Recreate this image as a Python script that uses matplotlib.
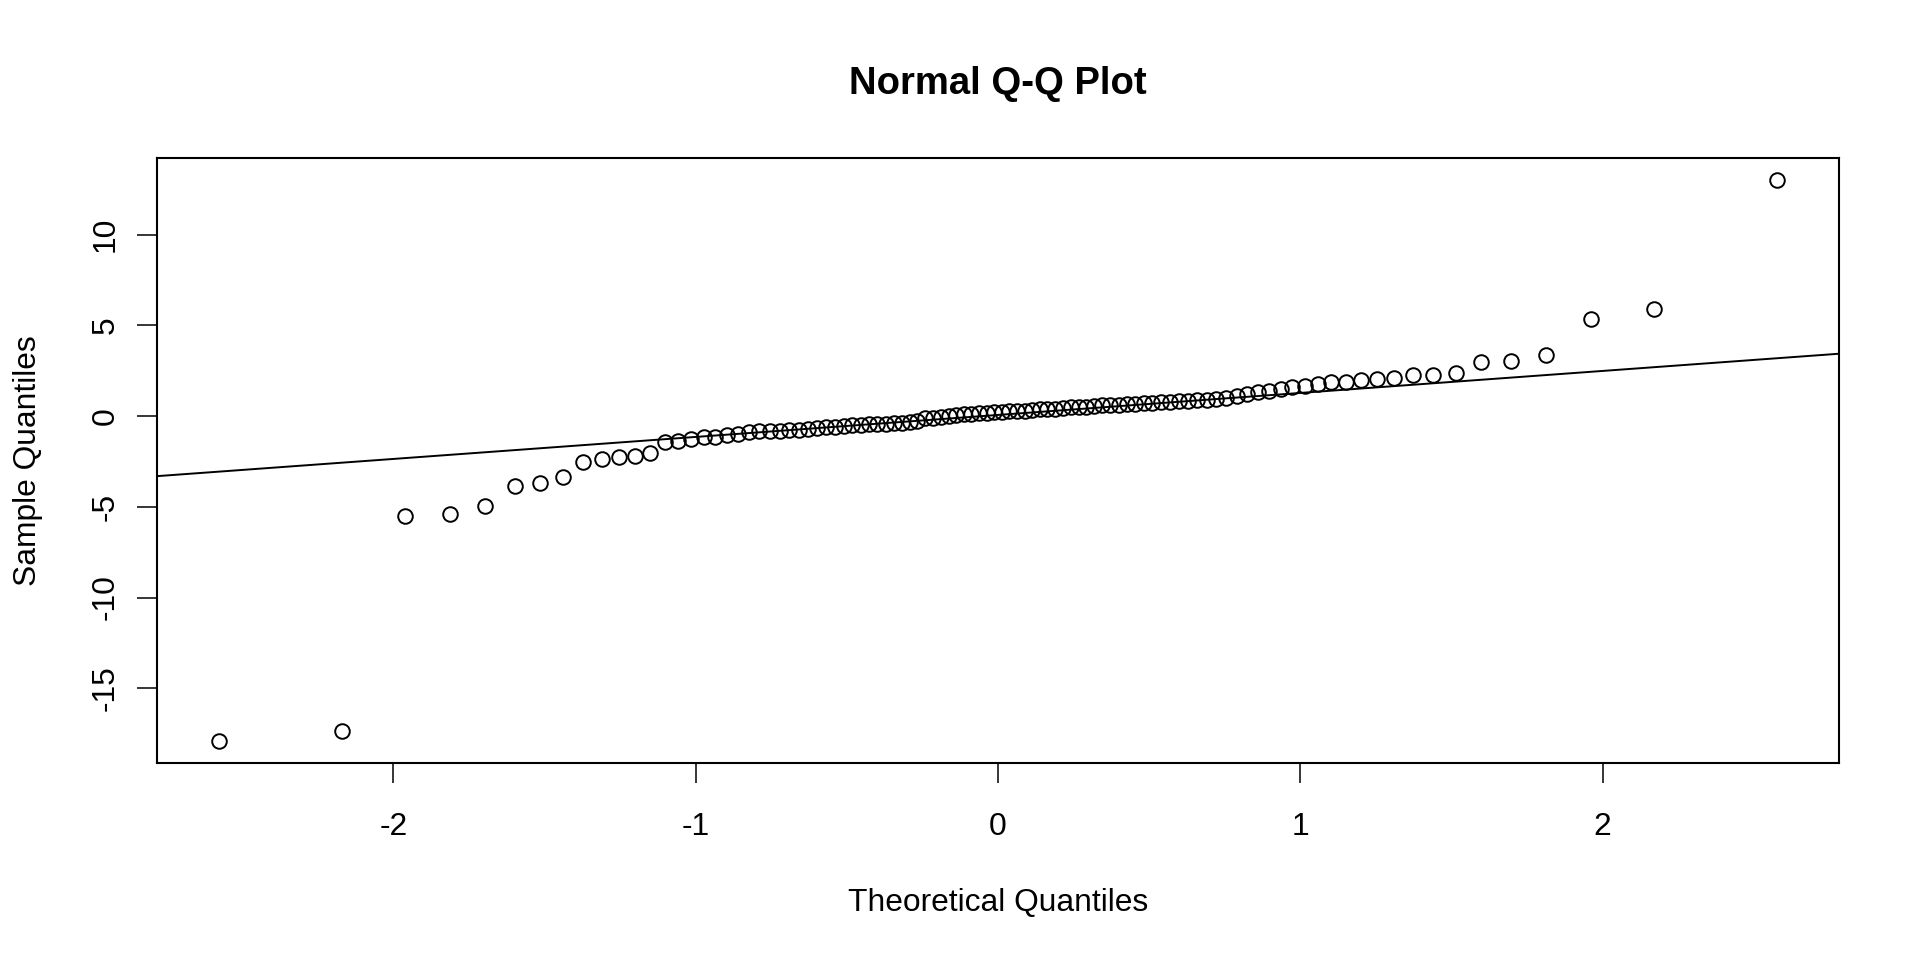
import numpy as np
import matplotlib
matplotlib.use("Agg")
import matplotlib.pyplot as plt
from statistics import NormalDist

# Sorted sample values (n = 100)
sample = [
    -17.88, -17.33, -5.48, -5.38, -4.95, -3.88, -3.68, -3.35, -2.51, -2.38,
    -2.27, -2.18, -2.05, -1.45, -1.37, -1.27, -1.18, -1.13, -1.05, -0.97,
    -0.90, -0.85, -0.82, -0.80, -0.78, -0.75, -0.70, -0.66, -0.63, -0.60,
    -0.56, -0.52, -0.48, -0.46, -0.44, -0.42, -0.39, -0.37, -0.33, -0.28,
    -0.13, -0.09, -0.06, -0.02, 0.05, 0.09, 0.13, 0.16, 0.19, 0.21,
    0.23, 0.25, 0.28, 0.30, 0.33, 0.36, 0.39, 0.41, 0.44, 0.47,
    0.50, 0.52, 0.55, 0.58, 0.60, 0.63, 0.66, 0.68, 0.71, 0.74,
    0.77, 0.79, 0.81, 0.84, 0.87, 0.90, 0.94, 0.99, 1.08, 1.19,
    1.30, 1.39, 1.48, 1.58, 1.68, 1.78, 1.85, 1.90, 1.96, 2.05,
    2.09, 2.24, 2.27, 2.36, 2.98, 3.04, 3.37, 5.35, 5.88, 12.98,
]
x_ticks = [-2, -1, 0, 1, 2]
y_ticks = [-15, -10, -5, 0, 5, 10]
title = "Normal Q-Q Plot"
x_label = "Theoretical Quantiles"
y_label = "Sample Quantiles"

y = np.sort(np.array(sample))
n = len(y)
nd = NormalDist()
theo = np.array([nd.inv_cdf((i - 0.5) / n) for i in range(1, n + 1)])

# qqline through the first and third quartiles
q1, q3 = np.quantile(y, [0.25, 0.75])
t1, t3 = nd.inv_cdf(0.25), nd.inv_cdf(0.75)
slope = (q3 - q1) / (t3 - t1)
intercept = q1 - slope * t1

plt.rcParams["font.family"] = ["Liberation Sans", "DejaVu Sans"]
plt.rcParams["axes.unicode_minus"] = False

W, H = 1920, 960
fig = plt.figure(figsize=(W / 100, H / 100), dpi=100)
L, R, T, B = 157, 1839, 158, 763
ax = fig.add_axes([L / W, 1 - B / H, (R - L) / W, (B - T) / H])

ax.plot(theo, y, linestyle="none", marker="o", markersize=10.5,
        markerfacecolor="none", markeredgecolor="black", markeredgewidth=1.4)
ax.axline((0, intercept), slope=slope, color="black", linewidth=1.4)

def ext(a, b):
    d = (b - a) * 0.04
    return a - d, b + d

ax.set_xlim(*ext(theo.min(), theo.max()))
ax.set_ylim(*ext(y.min(), y.max()))

fs = 22.9
ax.set_xticks(x_ticks)
ax.set_xticklabels([str(v) for v in x_ticks])
ax.set_yticks(y_ticks)
ax.set_yticklabels([str(v) for v in y_ticks], rotation=90, va="center")
ax.tick_params(axis="both", direction="out", length=14.4, width=1.1,
               labelsize=fs, colors="black")
ax.tick_params(axis="x", pad=20.6)
ax.tick_params(axis="y", pad=12.0)
for s in ax.spines.values():
    s.set_linewidth(1.5)
    s.set_color("black")

ah = B - T
aw = R - L
ax.set_title(title, fontsize=27.5, fontweight="bold", pad=0,
             y=(B - 93.7) / ah, va="baseline")
ax.set_xlabel(x_label, fontsize=fs, va="baseline")
ax.xaxis.set_label_coords(0.5, (B - 911.4) / ah)
ax.set_ylabel(y_label, fontsize=fs, va="baseline")
ax.yaxis.set_label_coords((35.9 - L) / aw, 0.5)

fig.savefig("out.png", dpi=100, facecolor="white")
